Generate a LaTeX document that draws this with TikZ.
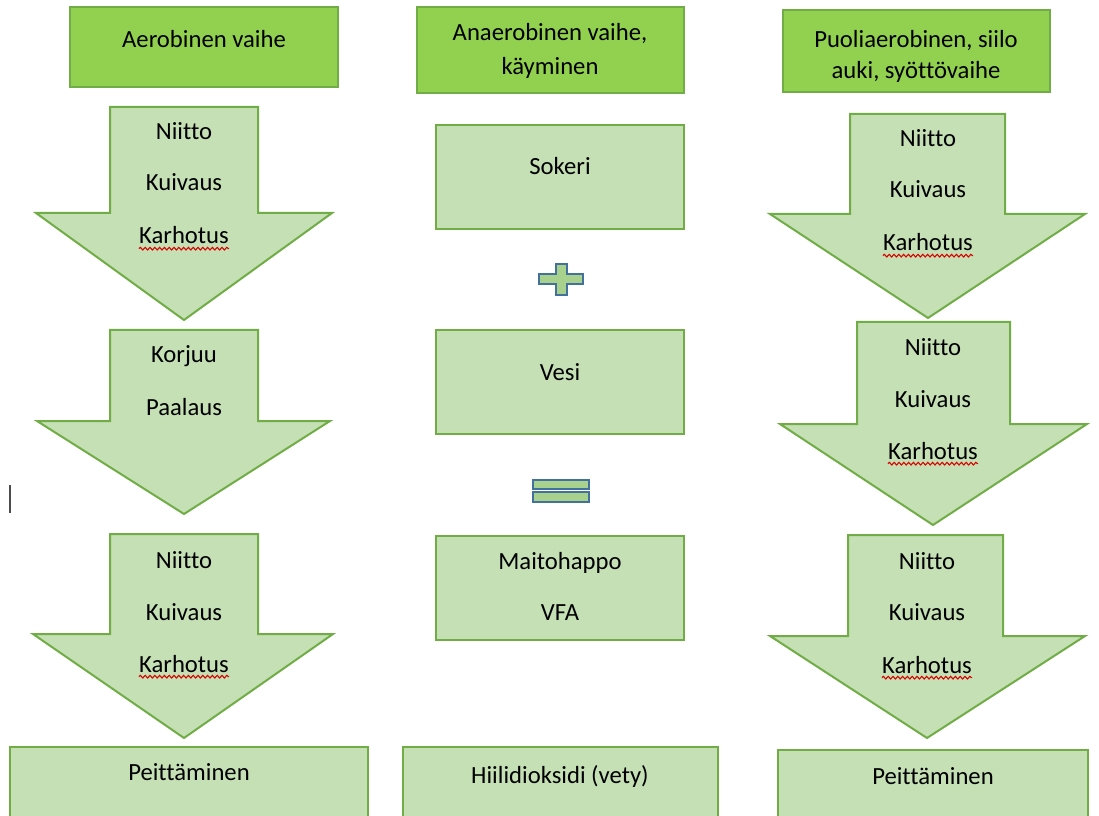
\documentclass[tikz,border=0pt]{standalone}
\usepackage{fontspec}
\setmainfont[Ligatures=NoCommon]{Carlito}
\usetikzlibrary{decorations.pathmorphing}
\definecolor{lg}{HTML}{C5E0B4}
\definecolor{gb}{HTML}{70AD47}
\definecolor{hg}{HTML}{92D050}
\definecolor{pg}{HTML}{A9D18E}
\definecolor{pb}{HTML}{41719C}
\begin{document}
\begin{tikzpicture}[x=0.75pt,y=-0.75pt,
  lbox/.style={draw=gb, fill=lg, line width=1.5pt, line join=miter},
  hbox/.style={draw=gb, fill=hg, line width=1.5pt},
  lbl/.style={font=\fontsize{18.5}{22}\selectfont, anchor=base, inner sep=0pt},
  sym/.style={draw=pb, fill=pg, line width=1.8pt},
  spell/.style={draw=red!85!black, line width=0.8pt, decorate, decoration={snake, amplitude=1pt, segment length=3.6pt}}]
\useasboundingbox (0,0) rectangle (1099,816);
\clip (0,0) rectangle (1099,816);

% header boxes
\draw[hbox] (70,7) rectangle (338,87);
\draw[hbox] (417,7) rectangle (684,93);
\draw[hbox] (783,10) rectangle (1050,92);
\node[lbl] (h1) at (204,48) {Aerobinen vaihe};
\node[lbl] (h2a) at (550,41) {Anaerobinen vaihe,};
\node[lbl] (h2b) at (550,75) {käyminen};
\node[lbl] (h3a) at (916,48) {Puoliaerobinen, siilo};
\node[lbl] (h3b) at (916,79) {auki, syöttövaihe};

% left column arrows
\draw[lbox] (110,107) -- (258,107) -- (258,213) -- (332,213) -- (184,320) -- (36,213) -- (110,213) -- cycle;
\node[lbl] (l1a) at (184,140) {Niitto};
\node[lbl] (l1b) at (184,191) {Kuivaus};
\node[lbl] (l1c) at (184,244) {Karhotus};
\draw[lbox] (110,330) -- (258,330) -- (258,421) -- (330,421) -- (184,514) -- (37,421) -- (110,421) -- cycle;
\node[lbl] (l2a) at (184,363) {Korjuu};
\node[lbl] (l2b) at (184,415) {Paalaus};
\draw[lbox] (110,534) -- (258,534) -- (258,634) -- (333,634) -- (184,738) -- (33,634) -- (110,634) -- cycle;
\node[lbl] (l3a) at (184,568) {Niitto};
\node[lbl] (l3b) at (184,620) {Kuivaus};
\node[lbl] (l3c) at (184,672) {Karhotus};

% middle column
\draw[lbox] (436,125) rectangle (684,229);
\node[lbl] (m1) at (560,175) {Sokeri};
\draw[sym] (556,264) -- (567,264) -- (567,274) -- (583,274) -- (583,284) -- (567,284) -- (567,295) -- (556,295) -- (556,284) -- (539,284) -- (539,274) -- (556,274) -- cycle;
\draw[lbox] (436,330) rectangle (684,434);
\node[lbl] (m2) at (560,381) {Vesi};
\draw[sym] (533,480) rectangle (589,489);
\draw[sym] (533,492) rectangle (589,502);
\draw[lbox] (436,536) rectangle (684,640);
\node[lbl] (m3a) at (560,569) {Maitohappo};
\node[lbl] (m3b) at (560,620) {VFA};

% right column arrows
\draw[lbox] (850,114) -- (1005,114) -- (1005,214) -- (1085,214) -- (928,318) -- (770,214) -- (850,214) -- cycle;
\node[lbl] (r1a) at (928,147) {Niitto};
\node[lbl] (r1b) at (928,198) {Kuivaus};
\node[lbl] (r1c) at (928,251) {Karhotus};
\draw[lbox] (857,322) -- (1010,322) -- (1010,424) -- (1087,424) -- (933,525) -- (780,424) -- (857,424) -- cycle;
\node[lbl] (r2a) at (933,356) {Niitto};
\node[lbl] (r2b) at (933,407) {Kuivaus};
\node[lbl] (r2c) at (933,459) {Karhotus};
\draw[lbox] (848,535) -- (1003,535) -- (1003,636) -- (1085,636) -- (927,738) -- (770,636) -- (848,636) -- cycle;
\node[lbl] (r3a) at (927,569) {Niitto};
\node[lbl] (r3b) at (927,620) {Kuivaus};
\node[lbl] (r3c) at (927,673) {Karhotus};

% spelling underlines
\foreach \n in {l1c,l3c,r1c,r2c,r3c}
  \draw[spell] ([yshift=-3.5pt]\n.base west) -- ([yshift=-3.5pt]\n.base east);

% bottom boxes
\draw[lbox] (10,747) rectangle (368,840);
\node[lbl] (b1) at (189,780) {Peittäminen};
\draw[lbox] (403,747) rectangle (718,840);
\node[lbl] (b2) at (560,783) {Hiilidioksidi (vety)};
\draw[lbox] (778,750) rectangle (1088,840);
\node[lbl] (b3) at (933,784) {Peittäminen};

% text cursor
\draw[line width=1pt, black!70] (10,485) -- (10,513);
\end{tikzpicture}
\end{document}
